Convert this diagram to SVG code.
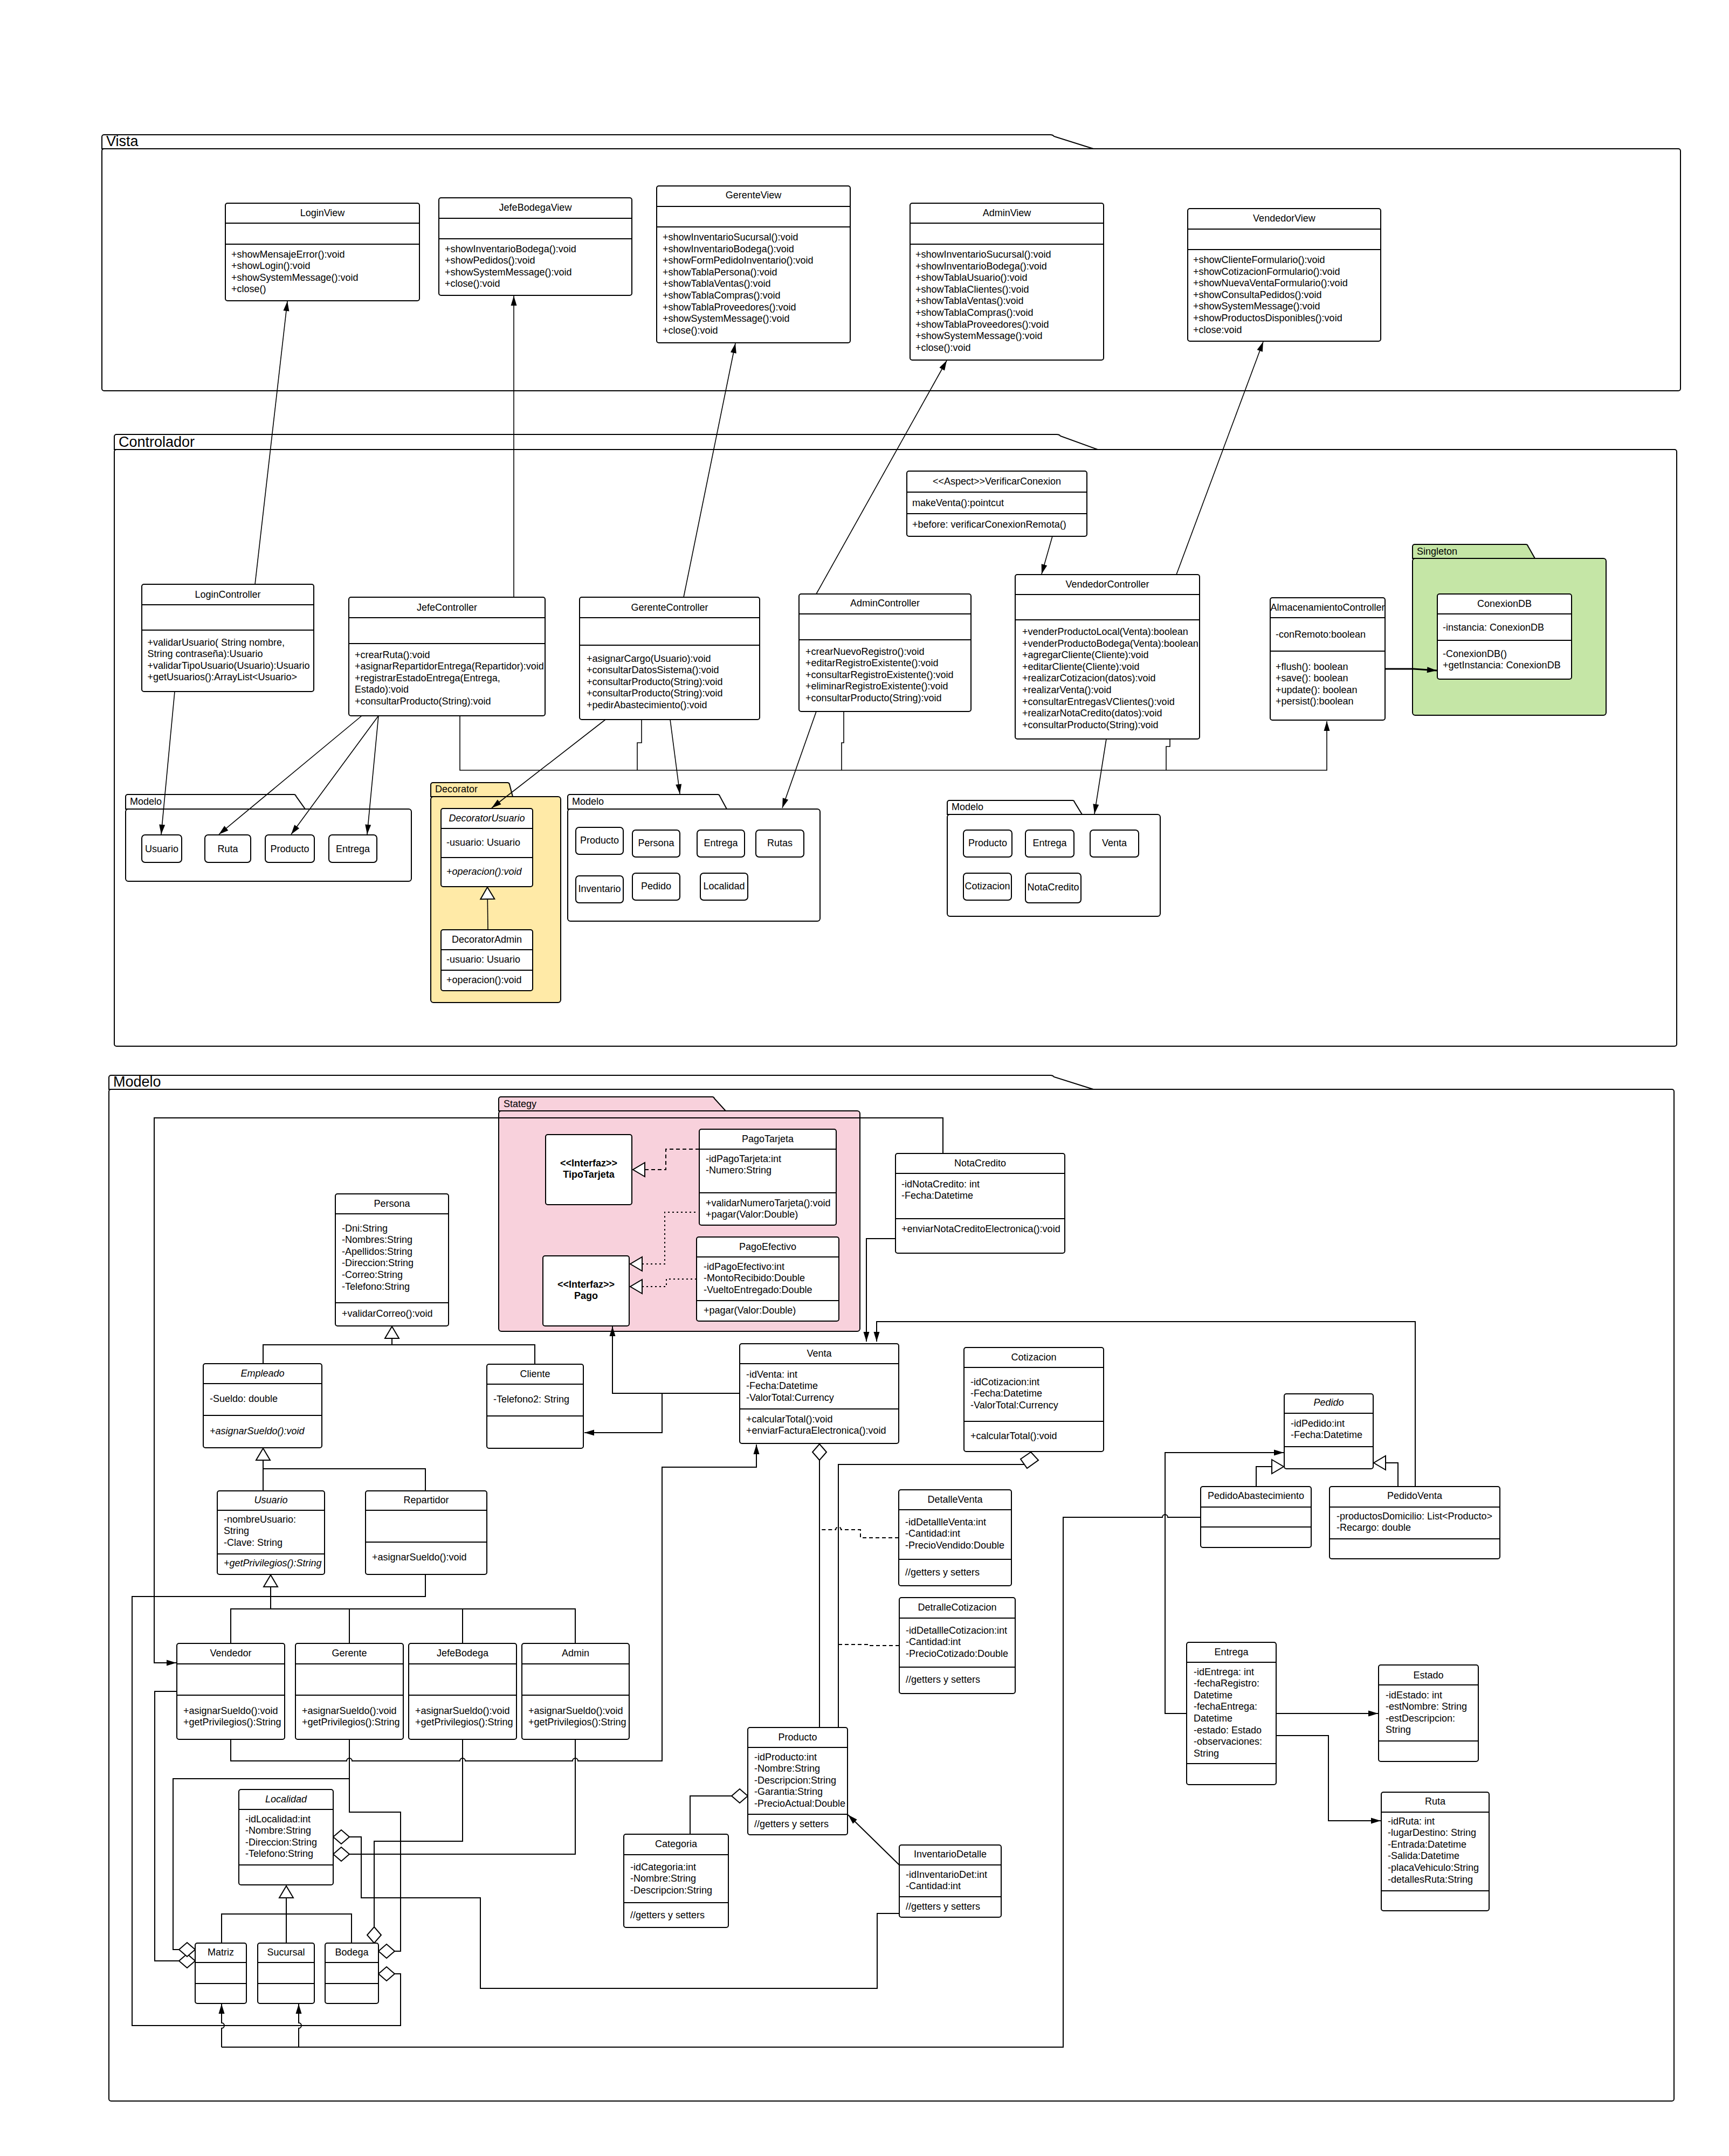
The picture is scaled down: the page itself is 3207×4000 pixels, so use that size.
<svg xmlns="http://www.w3.org/2000/svg" width="3207" height="4000" viewBox="0 0 3207 4000">
<defs>
<style>
.bx{fill:#fff;stroke:#000;stroke-width:2}
.sp{fill:none;stroke:#000;stroke-width:2}
text{font-family:"Liberation Sans",Arial,Helvetica,sans-serif;font-size:18px;fill:#000}
.m{text-anchor:middle}
.i{font-style:italic}
.b{font-weight:bold}
.pt{font-size:27px}
.pk{fill:#fff;stroke:#000;stroke-width:2}
.ln{fill:none;stroke:#000;stroke-width:1.6}
.lm{fill:none;stroke:#000;stroke-width:2}
.ds{stroke-dasharray:7 5}
.dt{stroke-dasharray:3 5}
</style>
<marker id="ar" markerUnits="userSpaceOnUse" markerWidth="20" markerHeight="12" refX="18" refY="6" orient="auto" overflow="visible"><path d="M0,0.5 L18,6 L0,11.5 z" fill="#000"/></marker>
<marker id="gen" markerUnits="userSpaceOnUse" markerWidth="24" markerHeight="28" refX="22" refY="13" orient="auto" overflow="visible"><path d="M0,0 L22,13 L0,26 z" fill="#fff" stroke="#000" stroke-width="2"/></marker>
<marker id="dia" markerUnits="userSpaceOnUse" markerWidth="32" markerHeight="28" refX="30" refY="13" orient="auto" overflow="visible"><path d="M0,13 L15,0 L30,13 L15,26 z" fill="#fff" stroke="#000" stroke-width="2"/></marker>
</defs>
<rect width="3207" height="4000" fill="#fff"/>

<!-- ===== packages ===== -->
<g id="pkg-vista">
<path class="pk" d="M189,276 V254 a4,4 0 0 1 4,-4 H1948 q5,0 7,3 L2028,276 z"/>
<rect class="pk" x="189" y="276" width="2928" height="449" rx="4"/>
<text class="pt" x="197" y="271">Vista</text>
</g>
<g id="pkg-controlador">
<path class="pk" d="M212,834 V810 a4,4 0 0 1 4,-4 H1960 q5,0 7,3 L2036,834 z"/>
<rect class="pk" x="212" y="834" width="2898" height="1107" rx="4"/>
<text class="pt" x="220" y="829">Controlador</text>
</g>
<g id="pkg-modelo">
<path class="pk" d="M202,2021 V1999 a4,4 0 0 1 4,-4 H1948 q5,0 7,3 L2028,2021 z"/>
<rect class="pk" x="202" y="2021" width="2903" height="1877" rx="4"/>
<text class="pt" x="210" y="2016">Modelo</text>
</g>

<g id="pkg-singleton">
<path d="M2620,1036 V1014 a4,4 0 0 1 4,-4 H2830 a4,4 0 0 1 4,3 L2847,1036 z" fill="#c5e6a6" stroke="#000" stroke-width="2"/>
<rect x="2620" y="1036" width="359" height="291" rx="5" fill="#c5e6a6" stroke="#000" stroke-width="2"/>
<text x="2628" y="1029">Singleton</text>
</g>
<g id="pkg-modelo-a">
<path class="pk" d="M233,1501 V1478 a4,4 0 0 1 4,-4 H545 a4,4 0 0 1 4,3 L566,1501 z"/>
<rect class="pk" x="233" y="1501" width="530" height="134" rx="5"/>
<text x="241" y="1493">Modelo</text>
</g>
<g id="pkg-decorator">
<path d="M799,1478 V1456 a4,4 0 0 1 4,-4 H941 a4,4 0 0 1 4,3 L951,1478 z" fill="#ffeaa7" stroke="#000" stroke-width="2"/>
<rect x="799" y="1478" width="241" height="382" rx="5" fill="#ffeaa7" stroke="#000" stroke-width="2"/>
<text x="807" y="1470">Decorator</text>
</g>
<g id="pkg-modelo-b">
<path class="pk" d="M1053,1501 V1478 a4,4 0 0 1 4,-4 H1331 a4,4 0 0 1 4,3 L1348,1501 z"/>
<rect class="pk" x="1053" y="1501" width="468" height="208" rx="5"/>
<text x="1061" y="1493">Modelo</text>
</g>
<g id="pkg-modelo-c">
<path class="pk" d="M1757,1511 V1489 a4,4 0 0 1 4,-4 H1989 a4,4 0 0 1 4,3 L2007,1511 z"/>
<rect class="pk" x="1757" y="1511" width="395" height="189" rx="5"/>
<text x="1765" y="1503">Modelo</text>
</g>
<g id="pkg-stategy">
<path d="M925,2061 V2039 a4,4 0 0 1 4,-4 H1321 a4,4 0 0 1 4,3 L1346,2061 z" fill="#f8d1dc" stroke="#000" stroke-width="2"/>
<rect x="925" y="2061" width="670" height="409" rx="5" fill="#f8d1dc" stroke="#000" stroke-width="2"/>
<text x="934" y="2054">Stategy</text>
</g>

<!-- ===== connectors ===== -->
<g id="connectors">
<!-- controllers to views -->
<path class="ln" marker-end="url(#ar)" d="M473,1084 L533,559"/>
<path class="ln" marker-end="url(#ar)" d="M953,1108 L953,549"/>
<path class="ln" marker-end="url(#ar)" d="M1268,1108 L1364,637"/>
<path class="ln" marker-end="url(#ar)" d="M1514,1102 L1756,669"/>
<path class="ln" marker-end="url(#ar)" d="M2182,1066 L2343,634"/>
<path class="ln" marker-end="url(#ar)" d="M1952,995 L1932,1065"/>
<path fill="none" stroke="#000" stroke-width="3" marker-end="url(#ar)" d="M2569,1241 H2622 L2665,1244"/>
<!-- controllers to model packages -->
<path class="ln" marker-end="url(#ar)" d="M324,1283 L299,1548"/>
<path class="ln" marker-end="url(#ar)" d="M671,1328 L406,1548"/>
<path class="ln" marker-end="url(#ar)" d="M702,1328 L540,1548"/>
<path class="ln" marker-end="url(#ar)" d="M702,1328 L681,1548"/>
<path class="ln" marker-end="url(#ar)" d="M1123,1335 L912,1499"/>
<path class="ln" marker-end="url(#ar)" d="M1243,1335 L1261,1473"/>
<path class="ln" marker-end="url(#ar)" d="M1514,1320 L1451,1499"/>
<path class="ln" marker-end="url(#ar)" d="M2052,1371 L2030,1510"/>
<!-- controllers to AlmacenamientoController -->
<path class="ln" marker-end="url(#ar)" d="M853,1328 V1429 H2461 V1338"/>
<path class="ln" d="M1190,1335 V1378 H1182 V1429"/>
<path class="ln" d="M1565,1320 V1378 H1561 V1429"/>
<path class="ln" d="M2170,1371 V1385 H2163 V1429"/>
<!-- decorator -->
<path class="ln" marker-end="url(#gen)" d="M905,1725 L904,1646"/>

<!-- strategy realizations -->
<path class="lm ds" marker-end="url(#gen)" d="M1297,2132 H1235 V2170 H1174"/>
<path class="lm dt" marker-end="url(#gen)" d="M1290,2249 H1233 V2345 H1169"/>
<path class="lm dt" marker-end="url(#gen)" d="M1292,2373 H1236 V2387 H1169"/>

<!-- persona hierarchy -->
<path class="lm" marker-end="url(#gen)" d="M727,2495 V2461"/>
<path class="lm" d="M488,2530 V2495 H992 V2531"/>
<path class="lm" marker-end="url(#gen)" d="M488,2766 V2687"/>
<path class="lm" d="M488,2725 H789 V2766"/>
<path class="lm" marker-end="url(#gen)" d="M502,2985 V2922"/>
<path class="lm" d="M428,3049 V2985 H1067 V3049 M648,2985 V3049 M858,2985 V3049"/>

<!-- Venta relations -->
<path class="lm" marker-end="url(#ar)" d="M1372,2585 H1228 V2658 H1084"/>
<path class="lm" marker-end="url(#ar)" d="M1228,2585 H1136 V2461"/>
<path class="lm" marker-end="url(#ar)" d="M428,3227 V3267 H643 a5,5 0 0 1 10,0 H853 a5,5 0 0 1 10,0 H1062 a5,5 0 0 1 10,0 H1228 V2722 H1403 V2680"/>
<path class="lm" marker-end="url(#ar)" d="M1661,2298 H1607 V2489"/>
<path class="lm" marker-end="url(#ar)" d="M2625,2758 V2452 H1626 V2489"/>
<path class="lm" marker-end="url(#ar)" d="M1749,2140 V2074 H286 V3085 H327"/>
<path class="lm" marker-end="url(#dia)" d="M1520,3205 V2679"/>
<path class="lm" d="M1555,3205 V2717 H1903"/>
<path d="M1912,2694 L1926,2709 L1905,2724 L1893,2707 z" fill="#fff" stroke="#000" stroke-width="2"/>
<path class="lm ds" d="M1667,2853 H1596 V2838 H1560 a5,5 0 0 0 -10,0 H1520"/>
<path class="lm ds" d="M1668,3053 H1613 V3051 H1555"/>
<path class="lm" marker-end="url(#dia)" d="M1280,3403 V3332 H1387"/>
<path class="lm" marker-end="url(#ar)" d="M1668,3460 L1573,3367"/>

<!-- pedidos / entrega -->
<path class="lm" marker-end="url(#gen)" d="M2330,2758 V2721 H2381"/>
<path class="lm" marker-end="url(#gen)" d="M2593,2758 V2714 H2548"/>
<path class="lm" marker-end="url(#ar)" d="M2201,3179 H2161 V2695 H2381"/>
<path class="lm" marker-end="url(#ar)" d="M2367,3179 H2556"/>
<path class="lm" marker-end="url(#ar)" d="M2367,3220 H2464 V3378 H2561"/>
<path class="lm" d="M2227,2815 H2166 a5,5 0 0 0 -10,0 H1972 V3798 H411"/>
<path class="lm" marker-end="url(#ar)" d="M411,3798 V3763 a5,5 0 0 0 0,-10 V3718"/>
<path class="lm" marker-end="url(#ar)" d="M554,3798 V3763 a5,5 0 0 0 0,-10 V3718"/>

<!-- localidad hierarchy and aggregations -->
<path class="lm" marker-end="url(#gen)" d="M531,3551 V3499"/>
<path class="lm" d="M411,3605 V3551 H652 V3605 M531,3551 V3605"/>
<path class="lm" marker-end="url(#dia)" d="M328,3138 H287 V3638 H362"/>
<path class="lm" marker-end="url(#dia)" d="M648,3227 V3300 H321 V3617 H362"/>
<path class="lm" marker-end="url(#dia)" d="M648,3300 V3362 H743 V3620 H702"/>
<path class="lm" marker-end="url(#dia)" d="M858,3227 V3416 H694 V3605"/>
<path class="lm" marker-end="url(#dia)" d="M1067,3227 V3440 H618"/>
<path class="lm" marker-end="url(#dia)" d="M1668,3550 H1627 V3689 H891 V3521 H670 V3408 H618"/>
<path class="lm" marker-end="url(#dia)" d="M789,2921 V2962 H245 V3758 H743 V3662 H702"/>
</g>

<!-- ===== Vista ===== -->
<g id="LoginView">
<rect class="bx" x="418" y="377" width="360" height="181" rx="4"/>
<path class="sp" d="M418,414 H778 M418,453 H778"/>
<text class="m" x="598" y="400.5">LoginView</text>
<text x="429" y="477.5">+showMensajeError():void<tspan x="429" dy="21.6">+showLogin():void</tspan><tspan x="429" dy="21.6">+showSystemMessage():void</tspan><tspan x="429" dy="21.6">+close()</tspan></text>
</g>
<g id="JefeBodegaView">
<rect class="bx" x="814" y="367" width="358" height="181" rx="4"/>
<path class="sp" d="M814,405 H1172 M814,443 H1172"/>
<text class="m" x="993" y="391">JefeBodegaView</text>
<text x="825" y="467.5">+showInventarioBodega():void<tspan x="825" dy="21.6">+showPedidos():void</tspan><tspan x="825" dy="21.6">+showSystemMessage():void</tspan><tspan x="825" dy="21.6">+close():void</tspan></text>
</g>
<g id="GerenteView">
<rect class="bx" x="1218" y="345" width="359" height="291" rx="4"/>
<path class="sp" d="M1218,383 H1577 M1218,421 H1577"/>
<text class="m" x="1397.5" y="368">GerenteView</text>
<text x="1229" y="446">+showInventarioSucursal():void<tspan x="1229" dy="21.6">+showInventarioBodega():void</tspan><tspan x="1229" dy="21.6">+showFormPedidoInventario():void</tspan><tspan x="1229" dy="21.6">+showTablaPersona():void</tspan><tspan x="1229" dy="21.6">+showTablaVentas():void</tspan><tspan x="1229" dy="21.6">+showTablaCompras():void</tspan><tspan x="1229" dy="21.6">+showTablaProveedores():void</tspan><tspan x="1229" dy="21.6">+showSystemMessage():void</tspan><tspan x="1229" dy="21.6">+close():void</tspan></text>
</g>
<g id="AdminView">
<rect class="bx" x="1688" y="377" width="359" height="291" rx="4"/>
<path class="sp" d="M1688,414 H2047 M1688,453 H2047"/>
<text class="m" x="1867.5" y="401">AdminView</text>
<text x="1698" y="478">+showInventarioSucursal():void<tspan x="1698" dy="21.6">+showInventarioBodega():void</tspan><tspan x="1698" dy="21.6">+showTablaUsuario():void</tspan><tspan x="1698" dy="21.6">+showTablaClientes():void</tspan><tspan x="1698" dy="21.6">+showTablaVentas():void</tspan><tspan x="1698" dy="21.6">+showTablaCompras():void</tspan><tspan x="1698" dy="21.6">+showTablaProveedores():void</tspan><tspan x="1698" dy="21.6">+showSystemMessage():void</tspan><tspan x="1698" dy="21.6">+close():void</tspan></text>
</g>
<g id="VendedorView">
<rect class="bx" x="2203" y="387" width="358" height="246" rx="4"/>
<path class="sp" d="M2203,425 H2561 M2203,463 H2561"/>
<text class="m" x="2382" y="410.5">VendedorView</text>
<text x="2213" y="488">+showClienteFormulario():void<tspan x="2213" dy="21.6">+showCotizacionFormulario():void</tspan><tspan x="2213" dy="21.6">+showNuevaVentaFormulario():void</tspan><tspan x="2213" dy="21.6">+showConsultaPedidos():void</tspan><tspan x="2213" dy="21.6">+showSystemMessage():void</tspan><tspan x="2213" dy="21.6">+showProductosDisponibles():void</tspan><tspan x="2213" dy="21.6">+close:void</tspan></text>
</g>

<!-- ===== Controlador ===== -->
<g id="LoginController">
<rect class="bx" x="263" y="1084" width="319" height="199" rx="4"/>
<path class="sp" d="M263,1122 H582 M263,1169 H582"/>
<text class="m" x="422.5" y="1108.5">LoginController</text>
<text x="273.5" y="1197.5">+validarUsuario( String nombre,<tspan x="273.5" dy="21.6">String contraseña):Usuario</tspan><tspan x="273.5" dy="21.6">+validarTipoUsuario(Usuario):Usuario</tspan><tspan x="273.5" dy="21.6">+getUsuarios():ArrayList&lt;Usuario&gt;</tspan></text>
</g>
<g id="JefeController">
<rect class="bx" x="647" y="1108" width="364" height="220" rx="4"/>
<path class="sp" d="M647,1146 H1011 M647,1194 H1011"/>
<text class="m" x="829" y="1132.5">JefeController</text>
<text x="658" y="1220.5">+crearRuta():void<tspan x="658" dy="21.6">+asignarRepartidorEntrega(Repartidor):void</tspan><tspan x="658" dy="21.6">+registrarEstadoEntrega(Entrega,</tspan><tspan x="658" dy="21.6">Estado):void</tspan><tspan x="658" dy="21.6">+consultarProducto(String):void</tspan></text>
</g>
<g id="GerenteController">
<rect class="bx" x="1075" y="1108" width="334" height="227" rx="4"/>
<path class="sp" d="M1075,1146 H1409 M1075,1197 H1409"/>
<text class="m" x="1242" y="1132.5">GerenteController</text>
<text x="1088" y="1227.5">+asignarCargo(Usuario):void<tspan x="1088" dy="21.6">+consultarDatosSistema():void</tspan><tspan x="1088" dy="21.6">+consultarProducto(String):void</tspan><tspan x="1088" dy="21.6">+consultarProducto(String):void</tspan><tspan x="1088" dy="21.6">+pedirAbastecimiento():void</tspan></text>
</g>
<g id="AdminController">
<rect class="bx" x="1482" y="1102" width="319" height="218" rx="4"/>
<path class="sp" d="M1482,1139 H1801 M1482,1187 H1801"/>
<text class="m" x="1641.5" y="1124.5">AdminController</text>
<text x="1494" y="1214.5">+crearNuevoRegistro():void<tspan x="1494" dy="21.6">+editarRegistroExistente():void</tspan><tspan x="1494" dy="21.6">+consultarRegistroExistente():void</tspan><tspan x="1494" dy="21.6">+eliminarRegistroExistente():void</tspan><tspan x="1494" dy="21.6">+consultarProducto(String):void</tspan></text>
</g>
<g id="VerificarConexion">
<rect class="bx" x="1682" y="874" width="334" height="121" rx="4"/>
<path class="sp" d="M1682,913 H2016 M1682,953 H2016"/>
<text class="m" x="1849" y="898.5">&lt;&lt;Aspect&gt;&gt;VerificarConexion</text>
<text x="1692" y="938.5">makeVenta():pointcut</text>
<text x="1692" y="978.5">+before: verificarConexionRemota()</text>
</g>
<g id="VendedorController">
<rect class="bx" x="1883" y="1066" width="342" height="305" rx="4"/>
<path class="sp" d="M1883,1103 H2225 M1883,1150 H2225"/>
<text class="m" x="2054" y="1089.5">VendedorController</text>
<text x="1896" y="1178">+venderProductoLocal(Venta):boolean<tspan x="1896" dy="21.6">+venderProductoBodega(Venta):boolean</tspan><tspan x="1896" dy="21.6">+agregarCliente(Cliente):void</tspan><tspan x="1896" dy="21.6">+editarCliente(Cliente):void</tspan><tspan x="1896" dy="21.6">+realizarCotizacion(datos):void</tspan><tspan x="1896" dy="21.6">+realizarVenta():void</tspan><tspan x="1896" dy="21.6">+consultarEntregasVClientes():void</tspan><tspan x="1896" dy="21.6">+realizarNotaCredito(datos):void</tspan><tspan x="1896" dy="21.6">+consultarProducto(String):void</tspan></text>
</g>
<g id="AlmacenamientoController">
<rect class="bx" x="2356" y="1109" width="213" height="227" rx="4"/>
<path class="sp" d="M2356,1146 H2569 M2356,1208 H2569"/>
<text class="m" x="2462.5" y="1132.5">AlmacenamientoController</text>
<text x="2366" y="1182.5">-conRemoto:boolean</text>
<text x="2366" y="1242.5">+flush(): boolean<tspan x="2366" dy="21.6">+save(): boolean</tspan><tspan x="2366" dy="21.6">+update(): boolean</tspan><tspan x="2366" dy="21.6">+persist():boolean</tspan></text>
</g>
<g id="ConexionDB">
<rect class="bx" x="2666" y="1102" width="249" height="158" rx="4"/>
<path class="sp" d="M2666,1139 H2915 M2666,1188 H2915"/>
<text class="m" x="2790.5" y="1125.5">ConexionDB</text>
<text x="2676" y="1169.5">-instancia: ConexionDB</text>
<text x="2676" y="1218.5">-ConexionDB()<tspan x="2676" dy="21.6">+getInstancia: ConexionDB</tspan></text>
</g>

<g id="ma-Usuario"><rect class="bx" x="263" y="1549" width="74" height="51" rx="6"/><text class="m" x="300" y="1581">Usuario</text></g>
<g id="ma-Ruta"><rect class="bx" x="380" y="1549" width="85" height="51" rx="6"/><text class="m" x="422.5" y="1581">Ruta</text></g>
<g id="ma-Producto"><rect class="bx" x="492" y="1549" width="91" height="51" rx="6"/><text class="m" x="537.5" y="1581">Producto</text></g>
<g id="ma-Entrega"><rect class="bx" x="610" y="1549" width="89" height="51" rx="6"/><text class="m" x="654.5" y="1581">Entrega</text></g>

<g id="DecoratorUsuario">
<rect class="bx" x="818" y="1500" width="170" height="145" rx="4"/>
<path class="sp" d="M818,1537 H988 M818,1591 H988"/>
<text class="m i" x="903" y="1523.5">DecoratorUsuario</text>
<text x="828" y="1568.5">-usuario: Usuario</text>
<text class="i" x="828" y="1622.5">+operacion():void</text>
</g>
<g id="DecoratorAdmin">
<rect class="bx" x="818" y="1725" width="170" height="113" rx="4"/>
<path class="sp" d="M818,1762 H988 M818,1800 H988"/>
<text class="m" x="903" y="1748.5">DecoratorAdmin</text>
<text x="828" y="1785.5">-usuario: Usuario</text>
<text x="828" y="1823.5">+operacion():void</text>
</g>

<g id="mb-Producto"><rect class="bx" x="1068" y="1535" width="88" height="50" rx="6"/><text class="m" x="1112" y="1564.5">Producto</text></g>
<g id="mb-Persona"><rect class="bx" x="1173" y="1540" width="88" height="50" rx="6"/><text class="m" x="1217" y="1569.5">Persona</text></g>
<g id="mb-Entrega"><rect class="bx" x="1293" y="1540" width="88" height="50" rx="6"/><text class="m" x="1337" y="1569.5">Entrega</text></g>
<g id="mb-Rutas"><rect class="bx" x="1402" y="1540" width="89" height="50" rx="6"/><text class="m" x="1446.5" y="1569.5">Rutas</text></g>
<g id="mb-Inventario"><rect class="bx" x="1068" y="1625" width="88" height="50" rx="6"/><text class="m" x="1112" y="1654.5">Inventario</text></g>
<g id="mb-Pedido"><rect class="bx" x="1173" y="1620" width="88" height="50" rx="6"/><text class="m" x="1217" y="1649.5">Pedido</text></g>
<g id="mb-Localidad"><rect class="bx" x="1299" y="1620" width="88" height="50" rx="6"/><text class="m" x="1343" y="1649.5">Localidad</text></g>

<g id="mc-Producto"><rect class="bx" x="1787" y="1540" width="90" height="50" rx="6"/><text class="m" x="1832" y="1569.5">Producto</text></g>
<g id="mc-Entrega"><rect class="bx" x="1902" y="1540" width="90" height="50" rx="6"/><text class="m" x="1947" y="1569.5">Entrega</text></g>
<g id="mc-Venta"><rect class="bx" x="2022" y="1540" width="90" height="50" rx="6"/><text class="m" x="2067" y="1569.5">Venta</text></g>
<g id="mc-Cotizacion"><rect class="bx" x="1787" y="1620" width="89" height="50" rx="6"/><text class="m" x="1831.5" y="1649.5">Cotizacion</text></g>
<g id="mc-NotaCredito"><rect class="bx" x="1902" y="1620" width="103" height="55" rx="6"/><text class="m" x="1953.5" y="1651.5">NotaCredito</text></g>

<!-- ===== Modelo ===== -->
<g id="TipoTarjeta">
<rect class="bx" x="1012" y="2105" width="160" height="130" rx="4"/>
<text class="m b" x="1092" y="2163.5">&lt;&lt;Interfaz&gt;&gt;</text>
<text class="m b" x="1092" y="2184.5">TipoTarjeta</text>
</g>
<g id="Pago">
<rect class="bx" x="1007" y="2330" width="160" height="130" rx="4"/>
<text class="m b" x="1087" y="2388.5">&lt;&lt;Interfaz&gt;&gt;</text>
<text class="m b" x="1087" y="2409.5">Pago</text>
</g>
<g id="PagoTarjeta">
<rect class="bx" x="1297" y="2095" width="254" height="178" rx="4"/>
<path class="sp" d="M1297,2132 H1551 M1297,2213 H1551"/>
<text class="m" x="1424" y="2118.5">PagoTarjeta</text>
<text x="1309" y="2155.5">-idPagoTarjeta:int<tspan x="1309" dy="21.6">-Numero:String</tspan></text>
<text x="1309" y="2237.5">+validarNumeroTarjeta():void<tspan x="1309" dy="21">+pagar(Valor:Double)</tspan></text>
</g>
<g id="PagoEfectivo">
<rect class="bx" x="1292" y="2295" width="264" height="156" rx="4"/>
<path class="sp" d="M1292,2332 H1556 M1292,2413 H1556"/>
<text class="m" x="1424" y="2318.5">PagoEfectivo</text>
<text x="1305" y="2355.5">-idPagoEfectivo:int<tspan x="1305" dy="21.6">-MontoRecibido:Double</tspan><tspan x="1305" dy="21.6">-VueltoEntregado:Double</tspan></text>
<text x="1305" y="2436.5">+pagar(Valor:Double)</text>
</g>
<g id="NotaCredito">
<rect class="bx" x="1661" y="2140" width="314" height="185" rx="4"/>
<path class="sp" d="M1661,2177 H1975 M1661,2261 H1975"/>
<text class="m" x="1818" y="2163.5">NotaCredito</text>
<text x="1672" y="2202.5">-idNotaCredito: int<tspan x="1672" dy="21.6">-Fecha:Datetime</tspan></text>
<text x="1672" y="2285.5">+enviarNotaCreditoElectronica():void</text>
</g>
<g id="Persona">
<rect class="bx" x="622" y="2215" width="210" height="245" rx="4"/>
<path class="sp" d="M622,2252 H832 M622,2417 H832"/>
<text class="m" x="727" y="2238.5">Persona</text>
<text x="634" y="2284.5">-Dni:String<tspan x="634" dy="21.6">-Nombres:String</tspan><tspan x="634" dy="21.6">-Apellidos:String</tspan><tspan x="634" dy="21.6">-Direccion:String</tspan><tspan x="634" dy="21.6">-Correo:String</tspan><tspan x="634" dy="21.6">-Telefono:String</tspan></text>
<text x="634" y="2442.5">+validarCorreo():void</text>
</g>
<g id="Empleado">
<rect class="bx" x="377" y="2530" width="220" height="156" rx="4"/>
<path class="sp" d="M377,2567 H597 M377,2626 H597"/>
<text class="m i" x="487" y="2553.5">Empleado</text>
<text x="389" y="2600.5">-Sueldo: double</text>
<text class="i" x="389" y="2660.5">+asignarSueldo():void</text>
</g>
<g id="Cliente">
<rect class="bx" x="903" y="2531" width="179" height="156" rx="4"/>
<path class="sp" d="M903,2568 H1082 M903,2627 H1082"/>
<text class="m" x="992.5" y="2554.5">Cliente</text>
<text x="915" y="2601.5">-Telefono2: String</text>
</g>
<g id="Usuario">
<rect class="bx" x="403" y="2766" width="199" height="155" rx="4"/>
<path class="sp" d="M403,2802 H602 M403,2883 H602"/>
<text class="m i" x="502.5" y="2788.5">Usuario</text>
<text x="415" y="2824.5">-nombreUsuario:<tspan x="415" dy="21.6">String</tspan><tspan x="415" dy="21.6">-Clave: String</tspan></text>
<text class="i" x="415" y="2905.5">+getPrivilegios():String</text>
</g>
<g id="Repartidor">
<rect class="bx" x="678" y="2766" width="225" height="155" rx="4"/>
<path class="sp" d="M678,2802 H903 M678,2861 H903"/>
<text class="m" x="790.5" y="2788.5">Repartidor</text>
<text x="690" y="2894.5">+asignarSueldo():void</text>
</g>
<g id="Venta">
<rect class="bx" x="1372" y="2493" width="295" height="185" rx="4"/>
<path class="sp" d="M1372,2530 H1667 M1372,2614 H1667"/>
<text class="m" x="1519.5" y="2516.5">Venta</text>
<text x="1384" y="2555.5">-idVenta: int<tspan x="1384" dy="21.6">-Fecha:Datetime</tspan><tspan x="1384" dy="21.6">-ValorTotal:Currency</tspan></text>
<text x="1384" y="2638.5">+calcularTotal():void<tspan x="1384" dy="21.6">+enviarFacturaElectronica():void</tspan></text>
</g>
<g id="Cotizacion">
<rect class="bx" x="1788" y="2500" width="259" height="193" rx="4"/>
<path class="sp" d="M1788,2537 H2047 M1788,2637 H2047"/>
<text class="m" x="1917.5" y="2523.5">Cotizacion</text>
<text x="1800" y="2569.5">-idCotizacion:int<tspan x="1800" dy="21.6">-Fecha:Datetime</tspan><tspan x="1800" dy="21.6">-ValorTotal:Currency</tspan></text>
<text x="1800" y="2669.5">+calcularTotal():void</text>
</g>
<g id="DetalleVenta">
<rect class="bx" x="1667" y="2764" width="209" height="178" rx="4"/>
<path class="sp" d="M1667,2801 H1876 M1667,2893 H1876"/>
<text class="m" x="1771.5" y="2787.5">DetalleVenta</text>
<text x="1679" y="2829.5">-idDetallleVenta:int<tspan x="1679" dy="21.6">-Cantidad:int</tspan><tspan x="1679" dy="21.6">-PrecioVendido:Double</tspan></text>
<text x="1679" y="2922.5">//getters y setters</text>
</g>
<g id="DetralleCotizacion">
<rect class="bx" x="1668" y="2964" width="215" height="178" rx="4"/>
<path class="sp" d="M1668,3002 H1883 M1668,3093 H1883"/>
<text class="m" x="1775.5" y="2987.5">DetralleCotizacion</text>
<text x="1680" y="3030.5">-idDetallleCotizacion:int<tspan x="1680" dy="21.6">-Cantidad:int</tspan><tspan x="1680" dy="21.6">-PrecioCotizado:Double</tspan></text>
<text x="1680" y="3121.5">//getters y setters</text>
</g>
<g id="Pedido">
<rect class="bx" x="2382" y="2586" width="165" height="139" rx="4"/>
<path class="sp" d="M2382,2622 H2547 M2382,2684 H2547"/>
<text class="m i" x="2464.5" y="2607.5">Pedido</text>
<text x="2394" y="2646.5">-idPedido:int<tspan x="2394" dy="21.2">-Fecha:Datetime</tspan></text>
</g>
<g id="PedidoAbastecimiento">
<rect class="bx" x="2227" y="2758" width="205" height="113" rx="4"/>
<path class="sp" d="M2227,2796 H2432 M2227,2833 H2432"/>
<text class="m" x="2329.5" y="2780.5">PedidoAbastecimiento</text>
</g>
<g id="PedidoVenta">
<rect class="bx" x="2466" y="2758" width="316" height="134" rx="4"/>
<path class="sp" d="M2466,2796 H2782 M2466,2855 H2782"/>
<text class="m" x="2624" y="2780.5">PedidoVenta</text>
<text x="2479" y="2818.5">-productosDomicilio: List&lt;Producto&gt;<tspan x="2479" dy="21.6">-Recargo: double</tspan></text>
</g>
<g id="Entrega">
<rect class="bx" x="2201" y="3047" width="166" height="264" rx="4"/>
<path class="sp" d="M2201,3084 H2367 M2201,3272 H2367"/>
<text class="m" x="2284" y="3070.5">Entrega</text>
<text x="2214" y="3107.5">-idEntrega: int<tspan x="2214" dy="21.6">-fechaRegistro:</tspan><tspan x="2214" dy="21.6">Datetime</tspan><tspan x="2214" dy="21.6">-fechaEntrega:</tspan><tspan x="2214" dy="21.6">Datetime</tspan><tspan x="2214" dy="21.6">-estado: Estado</tspan><tspan x="2214" dy="21.6">-observaciones:</tspan><tspan x="2214" dy="21.6">String</tspan></text>
</g>
<g id="Estado">
<rect class="bx" x="2557" y="3089" width="185" height="179" rx="4"/>
<path class="sp" d="M2557,3126 H2742 M2557,3230 H2742"/>
<text class="m" x="2649.5" y="3113.5">Estado</text>
<text x="2570" y="3150.5">-idEstado: int<tspan x="2570" dy="21.6">-estNombre: String</tspan><tspan x="2570" dy="21.6">-estDescripcion:</tspan><tspan x="2570" dy="21.6">String</tspan></text>
</g>
<g id="Ruta">
<rect class="bx" x="2562" y="3325" width="200" height="220" rx="4"/>
<path class="sp" d="M2562,3362 H2762 M2562,3508 H2762"/>
<text class="m" x="2662" y="3347.5">Ruta</text>
<text x="2574" y="3384.5">-idRuta: int<tspan x="2574" dy="21.6">-lugarDestino: String</tspan><tspan x="2574" dy="21.6">-Entrada:Datetime</tspan><tspan x="2574" dy="21.6">-Salida:Datetime</tspan><tspan x="2574" dy="21.6">-placaVehiculo:String</tspan><tspan x="2574" dy="21.6">-detallesRuta:String</tspan></text>
</g>
<g id="Vendedor">
<rect class="bx" x="328" y="3049" width="200" height="178" rx="4"/>
<path class="sp" d="M328,3087 H528 M328,3145 H528"/>
<text class="m" x="428" y="3072.5">Vendedor</text>
<text x="340" y="3179.5">+asignarSueldo():void<tspan x="340" dy="21.6">+getPrivilegios():String</tspan></text>
</g>
<g id="Gerente">
<rect class="bx" x="548" y="3049" width="200" height="178" rx="4"/>
<path class="sp" d="M548,3087 H748 M548,3145 H748"/>
<text class="m" x="648" y="3072.5">Gerente</text>
<text x="560" y="3179.5">+asignarSueldo():void<tspan x="560" dy="21.6">+getPrivilegios():String</tspan></text>
</g>
<g id="JefeBodega">
<rect class="bx" x="758" y="3049" width="200" height="178" rx="4"/>
<path class="sp" d="M758,3087 H958 M758,3145 H958"/>
<text class="m" x="858" y="3072.5">JefeBodega</text>
<text x="770" y="3179.5">+asignarSueldo():void<tspan x="770" dy="21.6">+getPrivilegios():String</tspan></text>
</g>
<g id="Admin">
<rect class="bx" x="968" y="3049" width="199" height="178" rx="4"/>
<path class="sp" d="M968,3087 H1167 M968,3145 H1167"/>
<text class="m" x="1067.5" y="3072.5">Admin</text>
<text x="980" y="3179.5">+asignarSueldo():void<tspan x="980" dy="21.6">+getPrivilegios():String</tspan></text>
</g>
<g id="Producto">
<rect class="bx" x="1387" y="3205" width="185" height="199" rx="4"/>
<path class="sp" d="M1387,3242 H1572 M1387,3366 H1572"/>
<text class="m" x="1479.5" y="3228.5">Producto</text>
<text x="1399" y="3265.5">-idProducto:int<tspan x="1399" dy="21.6">-Nombre:String</tspan><tspan x="1399" dy="21.6">-Descripcion:String</tspan><tspan x="1399" dy="21.6">-Garantia:String</tspan><tspan x="1399" dy="21.6">-PrecioActual:Double</tspan></text>
<text x="1399" y="3389.5">//getters y setters</text>
</g>
<g id="Categoria">
<rect class="bx" x="1157" y="3403" width="194" height="173" rx="4"/>
<path class="sp" d="M1157,3441 H1351 M1157,3530 H1351"/>
<text class="m" x="1254" y="3426.5">Categoria</text>
<text x="1169" y="3469.5">-idCategoria:int<tspan x="1169" dy="21.6">-Nombre:String</tspan><tspan x="1169" dy="21.6">-Descripcion:String</tspan></text>
<text x="1169" y="3558.5">//getters y setters</text>
</g>
<g id="InventarioDetalle">
<rect class="bx" x="1668" y="3423" width="189" height="134" rx="4"/>
<path class="sp" d="M1668,3460 H1857 M1668,3519 H1857"/>
<text class="m" x="1762.5" y="3445.5">InventarioDetalle</text>
<text x="1680" y="3483.5">-idInventarioDet:int<tspan x="1680" dy="21.6">-Cantidad:int</tspan></text>
<text x="1680" y="3542.5">//getters y setters</text>
</g>
<g id="Localidad">
<rect class="bx" x="443" y="3320" width="175" height="177" rx="4"/>
<path class="sp" d="M443,3357 H618 M443,3460 H618"/>
<text class="m i" x="530.5" y="3343.5">Localidad</text>
<text x="455" y="3380.5">-idLocalidad:int<tspan x="455" dy="21.6">-Nombre:String</tspan><tspan x="455" dy="21.6">-Direccion:String</tspan><tspan x="455" dy="21.6">-Telefono:String</tspan></text>
</g>
<g id="Matriz">
<rect class="bx" x="362" y="3605" width="95" height="112" rx="4"/>
<path class="sp" d="M362,3641 H457 M362,3680 H457"/>
<text class="m" x="409.5" y="3627.5">Matriz</text>
</g>
<g id="Sucursal">
<rect class="bx" x="478" y="3605" width="105" height="112" rx="4"/>
<path class="sp" d="M478,3641 H583 M478,3680 H583"/>
<text class="m" x="530.5" y="3627.5">Sucursal</text>
</g>
<g id="Bodega">
<rect class="bx" x="603" y="3605" width="99" height="112" rx="4"/>
<path class="sp" d="M603,3641 H702 M603,3680 H702"/>
<text class="m" x="652.5" y="3627.5">Bodega</text>
</g>
</svg>
